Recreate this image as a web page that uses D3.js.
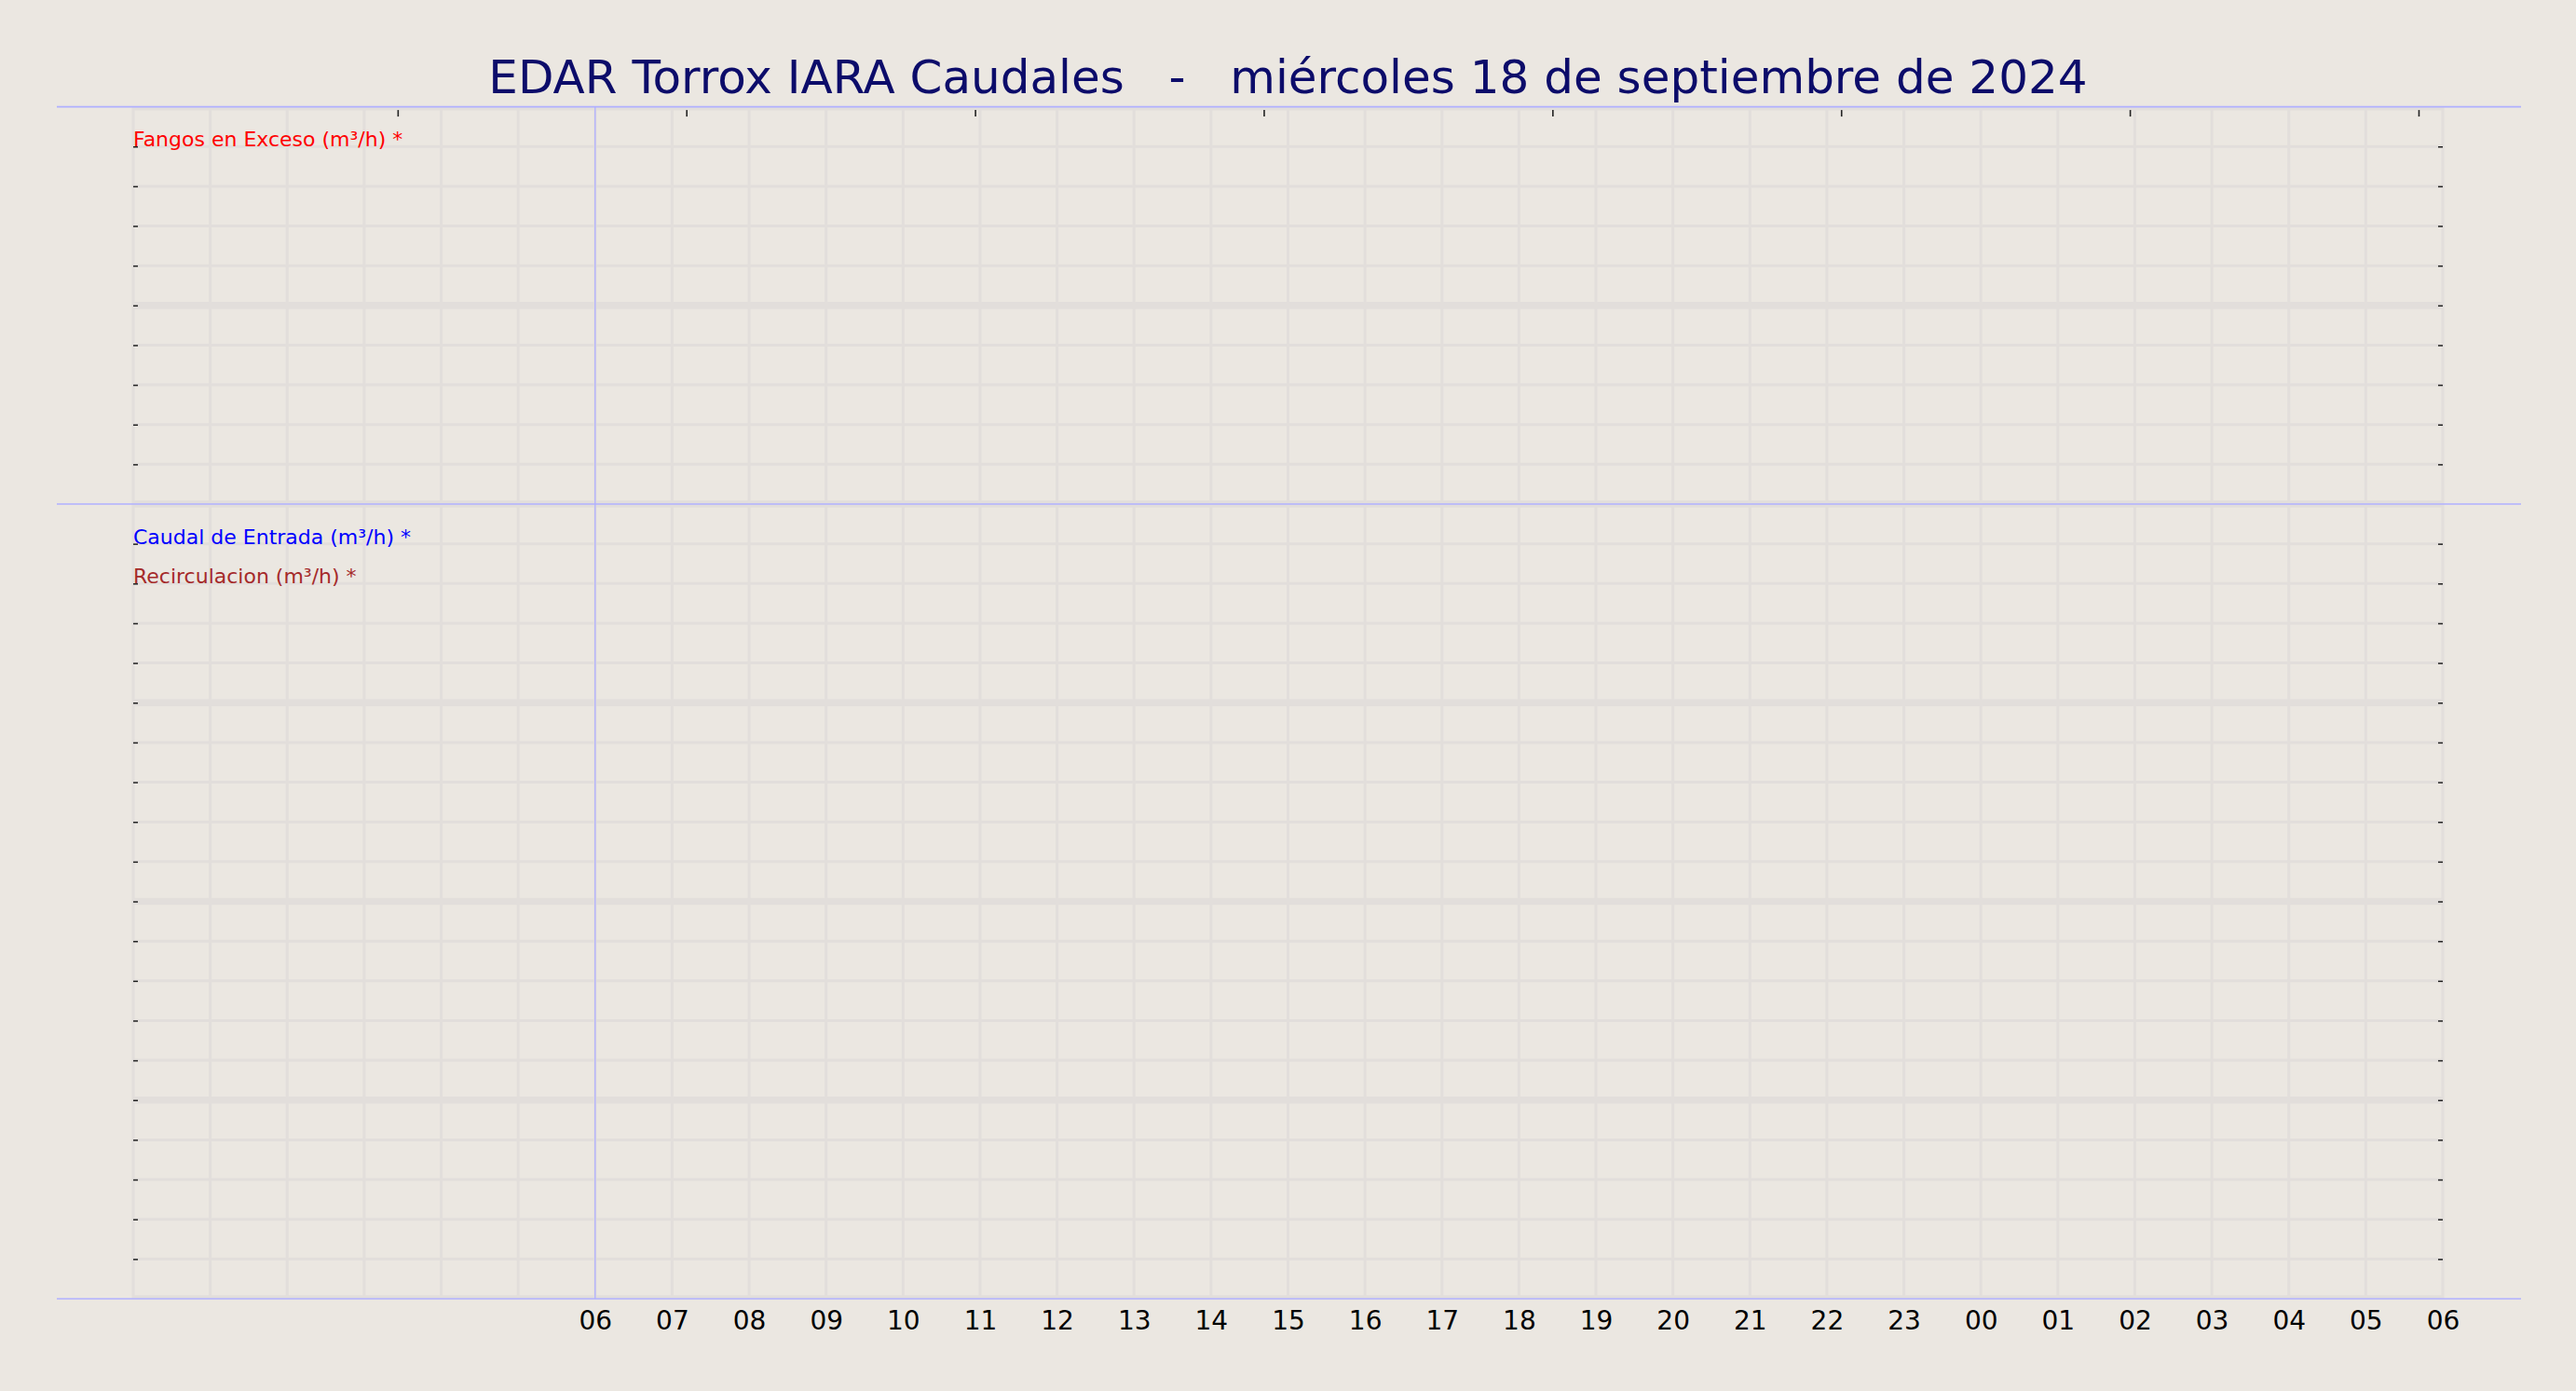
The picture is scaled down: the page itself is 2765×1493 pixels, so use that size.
<!DOCTYPE html>
<html>
<head>
<meta charset="utf-8">
<script src="https://cdn.jsdelivr.net/npm/d3@7"></script>
<style>
  html, body { margin: 0; padding: 0; background: #ebe7e1; }
  svg { display: block; font-family: "DejaVu Sans", sans-serif; }
</style>
</head>
<body>
<script>
// Chart data (the reference shows no readings yet, so the series are empty)
const title = 'EDAR Torrox IARA Caudales   -   miércoles 18 de septiembre de 2024';
const hourTicks = [6, 7, 8, 9, 10, 11, 12, 13, 14, 15, 16, 17, 18, 19, 20, 21, 22, 23, 24, 25, 26, 27, 28, 29, 30];
const hourLabels = ['06', '07', '08', '09', '10', '11', '12', '13', '14', '15', '16', '17', '18',
  '19', '20', '21', '22', '23', '00', '01', '02', '03', '04', '05', '06'];
const topSeries = [
  { name: 'Fangos en Exceso (m³/h) *', color: '#ff0000', values: [] }
];
const bottomSeries = [
  { name: 'Caudal de Entrada (m³/h) *', color: '#0000ff', values: [] },
  { name: 'Recirculacion (m³/h) *', color: '#a52a2a', values: [] }
];
const secondaryTicks = [1, 2, 3, 4, 5, 6, 7, 8];

// Figure size and plot box
const width = 2765;
const height = 1493;
const plot = { left: 143, right: 2622, top: 114.6, mid: 541, bottom: 1394 };
const bg = '#ebe7e1';
const gridColor = '#e2dedb';
const frameColor = '#b0b0ff';

const svg = d3.select('body').append('svg')
  .attr('width', width)
  .attr('height', height);

svg.append('rect')
  .attr('width', width)
  .attr('height', height)
  .attr('fill', bg);

// Scales
const xScale = d3.scaleLinear()
  .domain([0, 30])
  .range([plot.left, plot.right]);

const xTopScale = d3.scaleLinear()
  .domain([0.084, 8.084])
  .range([plot.left, plot.right]);

const yTop = d3.scaleLinear()
  .domain([0, 10])
  .range([plot.mid, plot.top]);

const yBottom = d3.scaleLinear()
  .domain([0, 20])
  .range([plot.bottom, plot.mid]);

// Clip paths so the thick grid lines stop at each panel
const defs = svg.append('defs');
defs.append('clipPath').attr('id', 'clip-top')
  .append('rect')
  .attr('x', plot.left - 2).attr('y', plot.top)
  .attr('width', plot.right - plot.left + 4).attr('height', plot.mid - plot.top);
defs.append('clipPath').attr('id', 'clip-bottom')
  .append('rect')
  .attr('x', plot.left - 2).attr('y', plot.mid)
  .attr('width', plot.right - plot.left + 4).attr('height', plot.bottom - plot.mid);

function drawPanel(yScale, clipId, series, labelStart) {
  const g = svg.append('g').attr('clip-path', 'url(#' + clipId + ')');
  const [y0, y1] = yScale.domain();

  // vertical hour grid
  g.selectAll('.vgrid')
    .data(d3.range(0, 31))
    .join('line')
    .attr('x1', d => xScale(d))
    .attr('x2', d => xScale(d))
    .attr('y1', yScale(y1))
    .attr('y2', yScale(y0))
    .attr('stroke', gridColor)
    .attr('stroke-width', 3);

  // horizontal grid, every fifth line heavier
  g.selectAll('.hgrid')
    .data(d3.range(y0, y1 + 1))
    .join('line')
    .attr('x1', plot.left)
    .attr('x2', plot.right)
    .attr('y1', d => yScale(d))
    .attr('y2', d => yScale(d))
    .attr('stroke', gridColor)
    .attr('stroke-width', d => d % 5 === 0 ? 7.7 : 3);

  // series lines (empty in this snapshot)
  const line = d3.line()
    .x(d => xScale(d.hour))
    .y(d => yScale(d.value));
  series.forEach(s => {
    g.append('path')
      .datum(s.values)
      .attr('fill', 'none')
      .attr('stroke', s.color)
      .attr('stroke-width', 2)
      .attr('d', line);
  });

  // inner ticks on both sides
  const tickVals = d3.range(y0 + 1, y1);
  svg.append('g')
    .attr('transform', 'translate(' + plot.left + ',0)')
    .call(d3.axisRight(yScale).tickValues(tickVals).tickSize(5).tickFormat(''))
    .call(a => a.select('.domain').remove())
    .call(a => a.selectAll('line').attr('stroke', '#222').attr('stroke-width', 1.5));
  svg.append('g')
    .attr('transform', 'translate(' + plot.right + ',0)')
    .call(d3.axisLeft(yScale).tickValues(tickVals).tickSize(5).tickFormat(''))
    .call(a => a.select('.domain').remove())
    .call(a => a.selectAll('line').attr('stroke', '#222').attr('stroke-width', 1.5));

  // series names, one per grid row from the top
  series.forEach((s, i) => {
    svg.append('text')
      .attr('x', plot.left)
      .attr('y', yScale(y1 - labelStart - i))
      .attr('fill', s.color)
      .style('font-size', '22px')
      .text(s.name);
  });
}

drawPanel(yTop, 'clip-top', topSeries, 1);
drawPanel(yBottom, 'clip-bottom', bottomSeries, 1);

// Figure-wide frame lines
[plot.top, plot.mid, plot.bottom].forEach(y => {
  svg.append('line')
    .attr('x1', 61)
    .attr('x2', 2706)
    .attr('y1', y)
    .attr('y2', y)
    .attr('stroke', frameColor)
    .attr('stroke-width', 1.6);
});

// Marker at the start of the day
svg.append('line')
  .attr('x1', xScale(6))
  .attr('x2', xScale(6))
  .attr('y1', plot.top)
  .attr('y2', plot.bottom)
  .attr('stroke', frameColor)
  .attr('stroke-width', 1.3);

// Secondary top ticks
svg.append('g')
  .attr('transform', 'translate(0,' + (plot.top + 3.5) + ')')
  .call(d3.axisBottom(xTopScale).tickValues(secondaryTicks).tickSize(7).tickFormat(''))
  .call(a => a.select('.domain').remove())
  .call(a => a.selectAll('line').attr('stroke', '#222').attr('stroke-width', 1.6));

// Hour labels
svg.append('g')
  .attr('transform', 'translate(0,' + plot.bottom + ')')
  .call(d3.axisBottom(xScale).tickValues(hourTicks).tickSize(0).tickPadding(13)
    .tickFormat((d, i) => hourLabels[i]))
  .call(a => a.select('.domain').remove())
  .call(a => a.selectAll('text')
    .attr('fill', '#000')
    .style('font-family', '"DejaVu Sans", sans-serif')
    .style('font-size', '28px'));

// Title
svg.append('text')
  .attr('x', width / 2)
  .attr('y', 100)
  .attr('text-anchor', 'middle')
  .attr('fill', '#0c0c6a')
  .style('font-size', '50px')
  .style('white-space', 'pre')
  .attr('xml:space', 'preserve')
  .text(title);
</script>
</body>
</html>
